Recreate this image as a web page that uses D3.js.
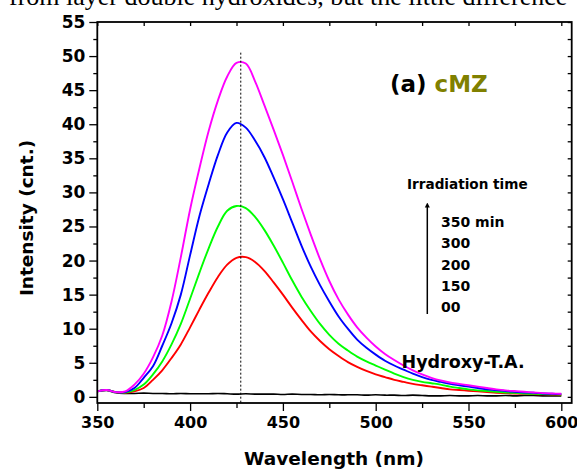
<!DOCTYPE html>
<html>
<head>
<meta charset="utf-8">
<script src="https://cdn.jsdelivr.net/npm/d3@7"></script>
<style>
  html, body { margin: 0; padding: 0; background: #fff; }
  svg { display: block; }
  text { font-family: "DejaVu Sans", sans-serif; font-weight: bold; fill: #000; }
</style>
</head>
<body>
<svg id="chart" width="577" height="469"></svg>
<script>
// ---------------- data ----------------
const wavelengths = d3.range(350, 601, 5); // 350..600 nm, step 5

const s350 = [0.8,1.0,0.7,0.8,1.8,3.4,5.8,9.0,14.0,20.5,27.5,33.5,39.0,43.5,47.0,49.0,48.9,46.3,42.8,39.2,35.5,31.6,27.6,23.8,20.2,17.0,14.3,12.1,10.2,8.7,7.4,6.3,5.4,4.6,3.9,3.3,2.8,2.4,2.1,1.9,1.7,1.5,1.3,1.1,0.95,0.85,0.75,0.65,0.55,0.5,0.45];
const s300 = [0.8,1.0,0.7,0.7,1.3,2.8,4.5,7.5,10.8,15.0,20.8,26.5,31.2,35.5,38.8,40.2,39.5,37.6,35.2,32.2,29.0,25.6,22.2,19.1,16.4,14.0,11.8,10.0,8.4,7.2,6.2,5.3,4.6,4.0,3.4,2.9,2.5,2.2,1.9,1.7,1.5,1.3,1.1,1.0,0.85,0.75,0.65,0.6,0.5,0.45,0.4];
const s200 = [0.8,1.0,0.7,0.65,1.0,1.8,3.3,5.2,7.7,10.7,14.4,18.2,21.8,25.0,27.3,28.0,27.7,26.4,24.5,22.2,19.7,17.1,14.7,12.6,10.7,9.1,7.8,6.8,5.9,5.2,4.6,4.0,3.4,2.9,2.5,2.2,2.0,1.8,1.5,1.3,1.1,0.95,0.85,0.75,0.65,0.58,0.5,0.45,0.4,0.38,0.35];
const s150 = [0.8,1.0,0.7,0.6,0.8,1.3,2.5,3.9,5.7,7.7,10.2,12.8,15.3,17.6,19.4,20.4,20.5,19.8,18.5,16.8,15.0,13.1,11.3,9.6,8.2,7.0,6.0,5.1,4.4,3.8,3.3,2.9,2.5,2.2,1.9,1.7,1.5,1.3,1.1,1.0,0.9,0.8,0.7,0.6,0.55,0.5,0.45,0.4,0.38,0.35,0.3];
const s00  = [0.8,0.95,0.6,0.5,0.5,0.55,0.5,0.5,0.45,0.5,0.45,0.45,0.45,0.5,0.45,0.4,0.45,0.4,0.4,0.4,0.35,0.4,0.35,0.35,0.3,0.35,0.3,0.3,0.3,0.25,0.3,0.25,0.25,0.2,0.25,0.2,0.15,0.15,0.2,0.15,0.15,0.2,0.15,0.15,0.2,0.15,0.2,0.2,0.15,0.15,0.15];

const seriesNames  = ["00", "150", "200", "300", "350 min"];
const seriesValues = [s00, s150, s200, s300, s350];
const seriesColors = ["#000000", "#ff0000", "#00ff00", "#0000ff", "#ff00ff"];

const xTicks = [350, 400, 450, 500, 550, 600];
const yTicks = [0, 5, 10, 15, 20, 25, 30, 35, 40, 45, 50, 55];
const xLimits = [350, 605.6];
const yLimits = [-0.9, 55];
const peakWavelength = 427.3;
const legendItems = ["350 min", "300", "200", "150", "00"];

// ---------------- layout ----------------
const svg = d3.select("#chart");
const L = 97.3, R = 571.7, T = 22, B = 403;

const x = d3.scaleLinear().domain(xLimits).range([L, R]);
const y = d3.scaleLinear().domain(yLimits).range([B, T]);

// top cut-off serif text
svg.append("text")
  .attr("x", 9).attr("y", 4.5)
  .style("font-family", "'Liberation Serif', serif")
  .style("font-weight", "normal")
  .style("font-size", "26px")
  .text("from layer double hydroxides, but the little difference");

// clip
const defs = svg.append("defs");
defs.append("clipPath").attr("id", "clip")
  .append("rect").attr("x", L).attr("y", T).attr("width", R - L).attr("height", B - T);

// curves
const line = d3.line()
  .x((d, i) => x(wavelengths[i]))
  .y(d => y(d))
  .curve(d3.curveCatmullRom.alpha(0.5));

const g = svg.append("g").attr("clip-path", "url(#clip)");
seriesValues.forEach((vals, k) => {
  g.append("path")
    .datum(vals)
    .attr("d", line)
    .attr("fill", "none")
    .attr("stroke", seriesColors[k])
    .attr("stroke-width", k === 0 ? 1.6 : 1.9)
    .attr("stroke-linejoin", "round");
});

// dashed peak line
svg.append("line")
  .attr("x1", x(peakWavelength)).attr("x2", x(peakWavelength))
  .attr("y1", y(50.5)).attr("y2", B)
  .attr("stroke", "#000").attr("stroke-width", 1)
  .attr("stroke-dasharray", "2,2");

// axes
const axBottom = d3.axisBottom(x).tickValues(xTicks).tickSize(8).tickPadding(6).tickFormat(d3.format("d"));
const axBottomMinor = d3.axisBottom(x).tickValues(d3.range(375, 601, 50)).tickSize(5).tickFormat("");
const axLeft = d3.axisLeft(y).tickValues(yTicks).tickSize(8).tickPadding(4).tickFormat(d3.format("d"));
const axLeftMinor = d3.axisLeft(y).tickValues(d3.range(2.5, 55, 5)).tickSize(4).tickFormat("");
const axTop = d3.axisTop(x).tickValues(d3.range(350, 601, 25)).tickSize(-4).tickFormat("");
const axRight = d3.axisRight(y).tickValues(d3.range(0, 55.1, 2.5)).tickSize(-4).tickFormat("");

function styleAxis(sel, fs) {
  sel.select(".domain").remove();
  sel.selectAll("line").attr("stroke", "#000").attr("stroke-width", 1.3);
  sel.selectAll("text").style("font-size", fs).style("font-family", "'DejaVu Sans', sans-serif").style("font-weight", "bold").attr("fill", "#000");
}

svg.append("g").attr("transform", `translate(0,${B})`).call(axBottom).call(s => styleAxis(s, "16px"));
svg.append("g").attr("transform", `translate(0,${B})`).call(axBottomMinor).call(s => styleAxis(s, "16px"));
svg.append("g").attr("transform", `translate(${L},0)`).call(axLeft).call(s => styleAxis(s, "17px"));
svg.append("g").attr("transform", `translate(${L},0)`).call(axLeftMinor).call(s => styleAxis(s, "17px"));
svg.append("g").attr("transform", `translate(0,${T})`).call(axTop).call(s => styleAxis(s, "16px"));
svg.append("g").attr("transform", `translate(${R},0)`).call(axRight).call(s => styleAxis(s, "16px"));

// frame
svg.append("rect")
  .attr("x", L).attr("y", T).attr("width", R - L).attr("height", B - T)
  .attr("fill", "none").attr("stroke", "#000").attr("stroke-width", 1.8);

// axis titles
svg.append("text")
  .attr("x", 334).attr("y", 465)
  .attr("text-anchor", "middle")
  .style("font-size", "18.5px")
  .text("Wavelength (nm)");

svg.append("text")
  .attr("transform", "translate(33,218) rotate(-90)")
  .attr("text-anchor", "middle")
  .style("font-size", "18.5px")
  .text("Intensity (cnt.)");

// panel label
const lab = svg.append("text").attr("x", 390).attr("y", 92).style("font-size", "23px");
lab.append("tspan").text("(a) ");
lab.append("tspan").style("fill", "#808000").text("cMZ");

// legend
svg.append("text").attr("x", 407).attr("y", 189).style("font-size", "13.6px").text("Irradiation time");
defs.append("marker")
  .attr("id", "arrow").attr("viewBox", "0 0 10 10").attr("refX", 5).attr("refY", 5)
  .attr("markerWidth", 5).attr("markerHeight", 6).attr("orient", "auto")
  .attr("markerUnits", "userSpaceOnUse")
  .append("path").attr("d", "M0,0 L10,5 L0,10 z").attr("fill", "#000");
svg.append("line")
  .attr("x1", 427.3).attr("x2", 427.3).attr("y1", 314).attr("y2", 205)
  .attr("stroke", "#000").attr("stroke-width", 1.5)
  .attr("marker-end", "url(#arrow)");
legendItems.forEach((t, i) => {
  svg.append("text").attr("x", 441).attr("y", 227 + i * 21.3).style("font-size", "14px").text(t);
});

svg.append("text").attr("x", 401.5).attr("y", 367.5).style("font-size", "17.5px").text("Hydroxy-T.A.");
</script>
</body>
</html>
